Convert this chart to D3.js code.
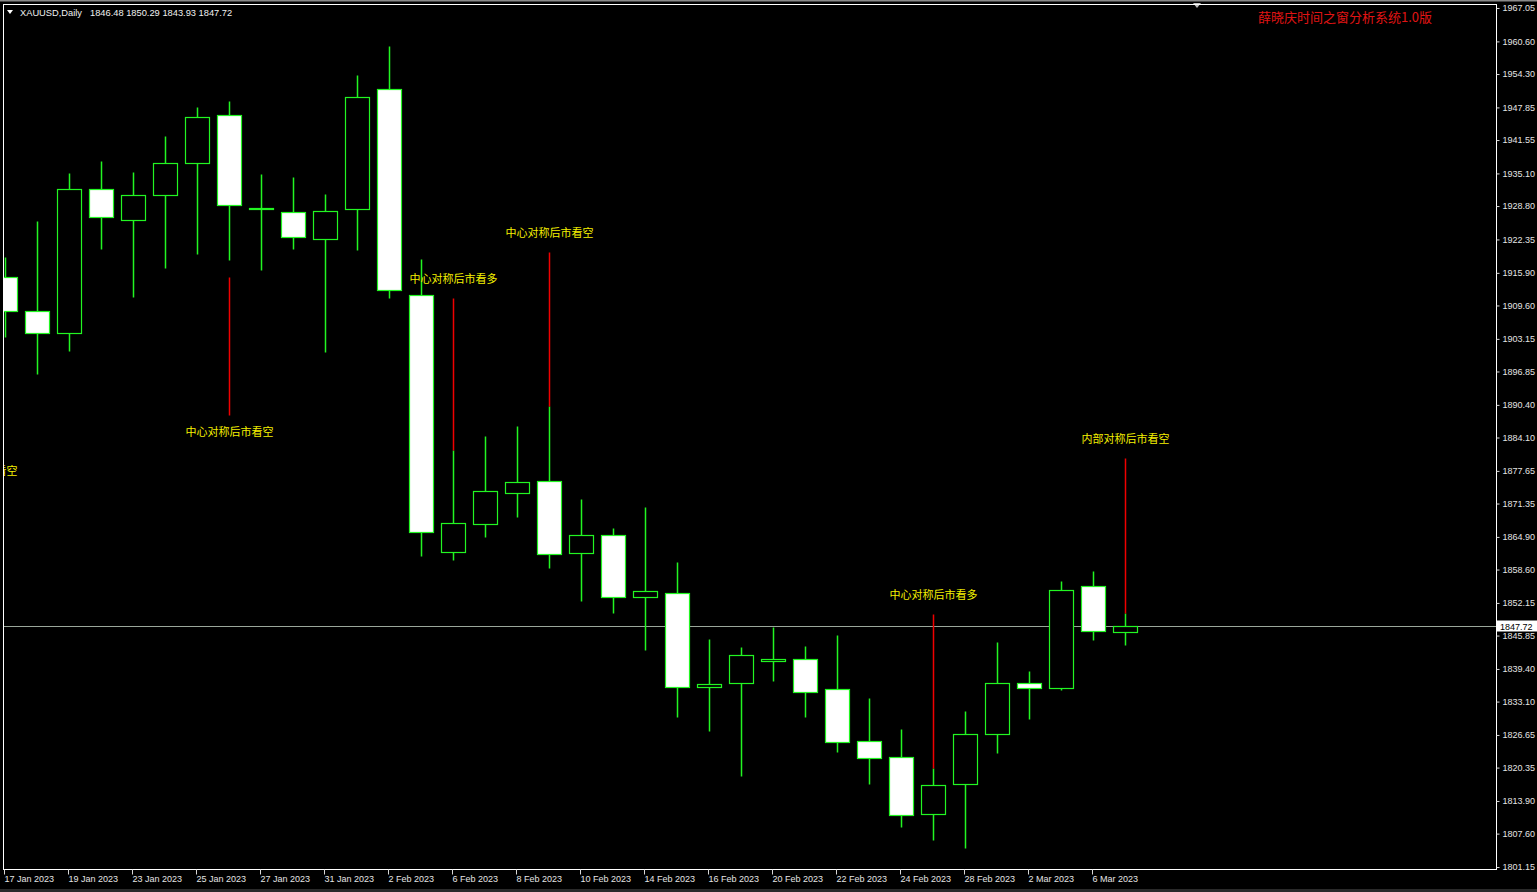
<!DOCTYPE html>
<html>
<head>
<meta charset="utf-8">
<script src="https://cdn.jsdelivr.net/npm/d3@7"></script>
<style>
  html, body { margin: 0; padding: 0; background: #000; overflow: hidden; }
  svg { display: block; }
</style>
</head>
<body>
<svg id="chart" width="1537" height="892"></svg>
<script>
// daily bars, XAUUSD
const dates = [
  "2023-01-17", "2023-01-18", "2023-01-19", "2023-01-20", "2023-01-23", "2023-01-24",
  "2023-01-25", "2023-01-26", "2023-01-27", "2023-01-30", "2023-01-31", "2023-02-01",
  "2023-02-02", "2023-02-03", "2023-02-06", "2023-02-07", "2023-02-08", "2023-02-09",
  "2023-02-10", "2023-02-13", "2023-02-14", "2023-02-15", "2023-02-16", "2023-02-17",
  "2023-02-20", "2023-02-21", "2023-02-22", "2023-02-23", "2023-02-24", "2023-02-27",
  "2023-02-28", "2023-03-01", "2023-03-02", "2023-03-03", "2023-03-06", "2023-03-07"
];
const opens = [
  1915.09, 1908.46, 1904.34, 1932.03, 1926.04, 1930.87, 1937.05, 1946.42, 1928.30, 1927.56,
  1922.38, 1928.14, 1951.34, 1911.66, 1862.02, 1867.32, 1873.32, 1875.63, 1861.71, 1865.27,
  1853.33, 1854.10, 1835.97, 1836.62, 1840.87, 1841.26, 1835.47, 1825.48, 1822.33, 1811.33,
  1817.12, 1826.78, 1836.73, 1835.65, 1855.34, 1846.48
];
const highs = [
  1918.95, 1925.90, 1935.12, 1937.50, 1935.37, 1942.26, 1947.87, 1949.01, 1934.90, 1934.44,
  1931.12, 1954.16, 1959.71, 1918.51, 1881.68, 1884.39, 1886.32, 1890.18, 1872.16, 1866.56,
  1870.71, 1860.05, 1845.18, 1843.64, 1847.56, 1843.83, 1845.95, 1833.79, 1827.74, 1820.33,
  1831.28, 1844.55, 1839.00, 1856.30, 1858.23, 1850.29
];
const lows = [
  1903.50, 1896.36, 1900.86, 1920.50, 1911.17, 1916.83, 1919.59, 1918.38, 1916.45, 1920.50,
  1900.69, 1920.31, 1911.10, 1861.27, 1860.44, 1864.94, 1868.78, 1858.84, 1852.58, 1850.25,
  1843.06, 1830.06, 1827.47, 1818.72, 1837.07, 1830.06, 1823.42, 1817.18, 1808.82, 1806.36,
  1804.76, 1823.11, 1829.79, 1835.33, 1844.99, 1843.93
];
const closes = [
  1908.52, 1904.20, 1932.03, 1926.68, 1930.87, 1937.11, 1945.92, 1929.00, 1928.50, 1922.88,
  1927.94, 1949.78, 1912.53, 1865.79, 1867.51, 1873.76, 1875.44, 1861.60, 1865.19, 1853.33,
  1854.45, 1835.83, 1836.49, 1842.03, 1841.32, 1834.89, 1825.23, 1822.14, 1811.19, 1816.99,
  1826.78, 1836.62, 1835.65, 1854.57, 1846.73, 1847.72
];
// the day before the first visible bar (scrolled off to the left)
const hiddenDates = ["2023-01-16"];

const labelDates = [
  "2023-01-17", "2023-01-19", "2023-01-23", "2023-01-25", "2023-01-27", "2023-01-31",
  "2023-02-02", "2023-02-06", "2023-02-08", "2023-02-10", "2023-02-14", "2023-02-16",
  "2023-02-20", "2023-02-22", "2023-02-24", "2023-02-28", "2023-03-02", "2023-03-06"
];
const priceTicks = [
  1967.05, 1960.60, 1954.30, 1947.85, 1941.55, 1935.10, 1928.80, 1922.35, 1915.90,
  1909.60, 1903.15, 1896.85, 1890.40, 1884.10, 1877.65, 1871.35, 1864.90, 1858.60,
  1852.15, 1845.85, 1839.40, 1833.10, 1826.65, 1820.35, 1813.90, 1807.60, 1801.15
];

// symmetry signals: red line from one price to another, label at the far end
const noteDates = ["2023-01-16", "2023-01-26", "2023-02-06", "2023-02-09", "2023-02-27", "2023-03-07"];
const noteTexts = ["中心对称后市看空", "中心对称后市看空", "中心对称后市看多", "中心对称后市看空", "中心对称后市看多", "内部对称后市看空"];
const noteFrom = [1903.70, 1915.15, 1881.68, 1890.18, 1820.33, 1850.29];
const noteTo   = [1880.91, 1888.44, 1910.98, 1919.86, 1849.95, 1880.08];

const symbol = "XAUUSD,Daily";
const lastBar = "1846.48 1850.29 1843.93 1847.72";
const lastPrice = 1847.72;
const title = "薛晓庆时间之窗分析系统1.0版";

const W = 1537, H = 892;
const frame = { left: 3.5, top: 4.5, right: 1496.5, bottom: 869.5 };
const green = "#22f522";

const svg = d3.select("#chart");
svg.append("rect").attr("width", W).attr("height", H).attr("fill", "#000");

const parse = d3.timeParse("%Y-%m-%d");
const fmtDay = d3.timeFormat("%-d %b %Y");

const allDates = hiddenDates.concat(dates);
const step = 32;
const x = d3.scaleBand()
  .domain(allDates)
  .range([-42.5, -42.5 + step * allDates.length])
  .paddingInner(0.25)
  .paddingOuter(0.125);
const cx = d => x(d) + x.bandwidth() / 2;

const y = d3.scaleLinear().domain([1801.15, 1967.05]).range([867, 8]);
const snap = v => Math.round(v) + 0.5;

// top window strip and chart shift marker
svg.append("rect").attr("x", 0).attr("y", 0).attr("width", W).attr("height", 1.5).attr("fill", "#8a8a8a");
svg.append("rect").attr("x", 0).attr("y", 889).attr("width", W).attr("height", 3).attr("fill", "#2a2a2a");
svg.append("path").attr("d", "M1193,3L1201,3L1197,8Z").attr("fill", "#bdbdbd");

svg.append("clipPath").attr("id", "plotclip")
  .append("rect")
  .attr("x", frame.left + 0.5).attr("y", frame.top + 0.5)
  .attr("width", frame.right - frame.left - 1).attr("height", frame.bottom - frame.top - 1);

const plot = svg.append("g").attr("clip-path", "url(#plotclip)");

// current price line
plot.append("line")
  .attr("x1", frame.left).attr("x2", frame.right)
  .attr("y1", snap(y(lastPrice))).attr("y2", snap(y(lastPrice)))
  .attr("stroke", "#9aa69a").attr("stroke-width", 1);

const candles = dates.map((d, i) => ({ date: d, o: opens[i], h: highs[i], l: lows[i], c: closes[i] }));

plot.selectAll("line.wick")
  .data(candles)
  .join("line")
  .attr("class", "wick")
  .attr("x1", d => cx(d.date)).attr("x2", d => cx(d.date))
  .attr("y1", d => snap(y(d.h))).attr("y2", d => snap(y(d.l)))
  .attr("stroke", green).attr("stroke-width", 1.5);

plot.selectAll("rect.body")
  .data(candles)
  .join("rect")
  .attr("class", "body")
  .attr("x", d => x(d.date))
  .attr("width", x.bandwidth())
  .attr("y", d => snap(y(Math.max(d.o, d.c))))
  .attr("height", d => Math.max(snap(y(Math.min(d.o, d.c))) - snap(y(Math.max(d.o, d.c))), 1))
  .attr("fill", d => d.c >= d.o ? "#000" : "#fff")
  .attr("stroke", green).attr("stroke-width", 1.2);

// signal annotations
const notes = noteDates.map((d, i) => ({ date: d, text: noteTexts[i], from: noteFrom[i], to: noteTo[i] }));

plot.selectAll("line.note")
  .data(notes)
  .join("line")
  .attr("class", "note")
  .attr("x1", d => cx(d.date)).attr("x2", d => cx(d.date))
  .attr("y1", d => snap(y(d.from))).attr("y2", d => snap(y(d.to)))
  .attr("stroke", "#f00000").attr("stroke-width", 1.5);

plot.selectAll("text.note")
  .data(notes)
  .join("text")
  .attr("class", "note")
  .attr("x", d => cx(d.date))
  .attr("y", d => d.to > d.from ? y(d.to) - 19 : y(d.to) + 17)
  .attr("dy", "0.36em")
  .attr("text-anchor", "middle")
  .attr("fill", "#f5f000")
  .style("font", "11px 'Noto Sans CJK SC'")
  .text(d => d.text);

// frame
svg.append("rect")
  .attr("x", frame.left).attr("y", frame.top)
  .attr("width", frame.right - frame.left).attr("height", frame.bottom - frame.top)
  .attr("fill", "none").attr("stroke", "#fff").attr("stroke-width", 1);

// price scale
const gy = svg.append("g")
  .attr("transform", `translate(${frame.right},0)`)
  .call(d3.axisRight(y).tickValues(priceTicks).tickSize(3).tickPadding(3).tickFormat(d3.format(".2f")));
gy.select(".domain").remove();
gy.selectAll(".tick line").attr("stroke", "#d8d8d8");
gy.selectAll(".tick text").attr("fill", "#e4e4e4").style("font", "9px 'Liberation Sans'");

// last price tag
const tagY = snap(y(lastPrice));
svg.append("rect").attr("x", 1497).attr("y", tagY - 6).attr("width", 40).attr("height", 11).attr("fill", "#fff");
svg.append("text")
  .attr("x", 1500).attr("y", tagY).attr("dy", "0.34em")
  .attr("fill", "#000").style("font", "9px 'Liberation Sans'")
  .text(d3.format(".2f")(lastPrice));

// time scale
const gx = svg.append("g")
  .attr("transform", `translate(0,${frame.bottom})`)
  .call(d3.axisBottom(x).tickValues(labelDates).tickSize(5).tickFormat(d => fmtDay(parse(d))));
gx.select(".domain").remove();
gx.selectAll(".tick line").attr("stroke", "#d8d8d8").attr("transform", "translate(-1,0)");
gx.selectAll(".tick text")
  .attr("text-anchor", "start").attr("x", -1).attr("y", 12.5).attr("dy", null)
  .attr("fill", "#e4e4e4").style("font", "9px 'Liberation Sans'");

// header
svg.append("path").attr("d", "M7,10L13,10L10,14Z").attr("fill", "#fff");
svg.append("text").attr("x", 20).attr("y", 16)
  .attr("fill", "#f0f0f0").style("font", "9.3px 'Liberation Sans'").text(symbol);
svg.append("text").attr("x", 90).attr("y", 16)
  .attr("fill", "#f0f0f0").style("font", "9.3px 'Liberation Sans'").text(lastBar);

svg.append("text").attr("x", 1258).attr("y", 22)
  .attr("fill", "#e01414").style("font", "13px 'Noto Sans CJK SC'").text(title);
</script>
</body>
</html>
